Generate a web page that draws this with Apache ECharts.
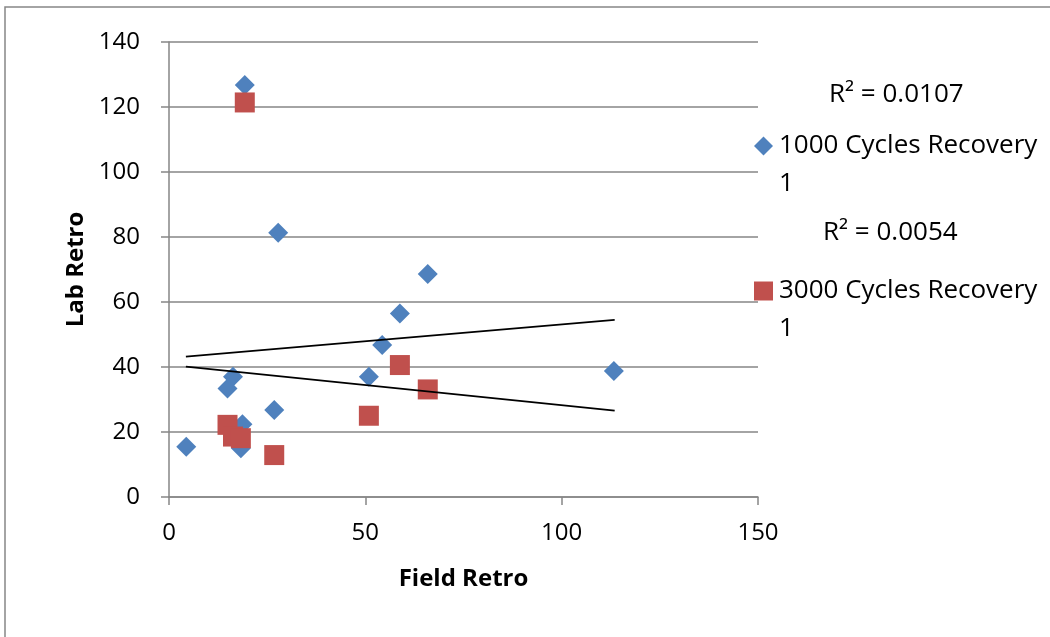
<!DOCTYPE html>
<html>
<head>
<meta charset="utf-8">
<script src="https://cdn.jsdelivr.net/npm/echarts@6/dist/echarts.min.js"></script>
<style>
html,body{margin:0;padding:0;background:#fff;}
#chart{width:1050px;height:637px;}
</style>
</head>
<body>
<div id="chart"></div>
<script>
// Data
const seriesNames = ['1000 Cycles Recovery 1', '3000 Cycles Recovery 1'];
const blueX = [4.4, 16.3, 14.9, 26.8, 18.7, 18.3, 65.9, 58.8, 54.3, 50.9, 19.3, 27.8, 113.3];
const blueY = [15.5, 37.0, 33.4, 26.8, 22.4, 15.0, 68.6, 56.5, 46.8, 37.0, 126.8, 81.3, 38.8];
const redX = [14.9, 16.3, 18.3, 26.8, 58.8, 65.9, 50.9, 19.3];
const redY = [22.2, 18.6, 18.1, 12.9, 40.6, 33.1, 25.0, 121.4];
const blueTrendX = [4.3, 113.5];
const blueTrendY = [43.2, 54.5];
const redTrendX = [4.3, 113.5];
const redTrendY = [40.1, 26.6];
const r2Labels = ['R\u00b2 = 0.0107', 'R\u00b2 = 0.0054'];
const xTitle = 'Field Retro';
const yTitle = 'Lab Retro';

const FONT = 'Open Sans';
const zip = (xs, ys) => xs.map((x, i) => [x, ys[i]]);
const axisGray = '#868686';

const legendText = { fontFamily: FONT, fontSize: 26, color: '#000', lineHeight: 38, padding: [0, 0, 0, 1] };
// Wrap the last word onto a second line; a leading empty line keeps the icon level with the first line
const legendFmt = n => '\n' + n.replace(/ (\S+)$/, '\n$1');

const chart = echarts.init(document.getElementById('chart'));
chart.setOption({
  animation: false,
  backgroundColor: '#ffffff',
  textStyle: { fontFamily: FONT },
  grid: { left: 169, right: 292, top: 42, bottom: 140, containLabel: false },
  xAxis: {
    type: 'value', min: 0, max: 150, interval: 50,
    name: xTitle, nameLocation: 'middle', nameGap: 70,
    nameTextStyle: { fontFamily: FONT, fontWeight: 'bold', fontSize: 24, color: '#000' },
    axisLine: { show: true, onZero: false, lineStyle: { color: axisGray, width: 1.5 } },
    axisTick: { show: true, length: 8, lineStyle: { color: axisGray, width: 1.5 } },
    axisLabel: { fontFamily: FONT, fontSize: 24, color: '#000', margin: 24 },
    splitLine: { show: false }
  },
  yAxis: {
    type: 'value', min: 0, max: 140, interval: 20,
    name: yTitle, nameLocation: 'middle', nameGap: 67, nameRotate: 90,
    nameTextStyle: { fontFamily: FONT, fontWeight: 'bold', fontSize: 24, color: '#000' },
    axisLine: { show: true, lineStyle: { color: axisGray, width: 1.5 } },
    axisTick: { show: true, length: 8, lineStyle: { color: axisGray, width: 1.5 } },
    axisLabel: { fontFamily: FONT, fontSize: 24, color: '#000', margin: 29 },
    splitLine: { show: true, lineStyle: { color: axisGray, width: 1.5 } }
  },
  legend: [
    {
      data: [{ name: seriesNames[0], icon: 'diamond' }],
      orient: 'vertical', left: 754, top: 89, padding: 0,
      itemWidth: 19, itemHeight: 19, itemGap: 0,
      formatter: legendFmt, textStyle: legendText
    },
    {
      data: [{ name: seriesNames[1], icon: 'rect' }],
      orient: 'vertical', left: 754, top: 234, padding: 0,
      itemWidth: 19, itemHeight: 19, itemGap: 0,
      formatter: legendFmt, textStyle: legendText
    }
  ],
  graphic: [
    { type: 'rect', silent: true, shape: { x: 5, y: 7, width: 1200, height: 800 },
      style: { fill: 'none', stroke: axisGray, lineWidth: 1.5 }, z: -10 },
    { type: 'text', left: 829, top: 82, style: { text: r2Labels[0], font: '26px "Open Sans"', fill: '#000' } },
    { type: 'text', left: 823, top: 220, style: { text: r2Labels[1], font: '26px "Open Sans"', fill: '#000' } }
  ],
  series: [
    {
      name: seriesNames[0], type: 'scatter', symbol: 'diamond', symbolSize: 20,
      itemStyle: { color: '#4F81BD', opacity: 1 }, data: zip(blueX, blueY), z: 3
    },
    {
      name: seriesNames[1], type: 'scatter', symbol: 'rect', symbolSize: 20,
      itemStyle: { color: '#C0504D', opacity: 1 }, data: zip(redX, redY), z: 4
    },
    {
      name: 'trend1', type: 'line', data: zip(blueTrendX, blueTrendY), showSymbol: false, symbol: 'none',
      lineStyle: { color: '#000', width: 1.8 }, z: 5, silent: true
    },
    {
      name: 'trend2', type: 'line', data: zip(redTrendX, redTrendY), showSymbol: false, symbol: 'none',
      lineStyle: { color: '#000', width: 1.8 }, z: 5, silent: true
    }
  ]
});
</script>
</body>
</html>
